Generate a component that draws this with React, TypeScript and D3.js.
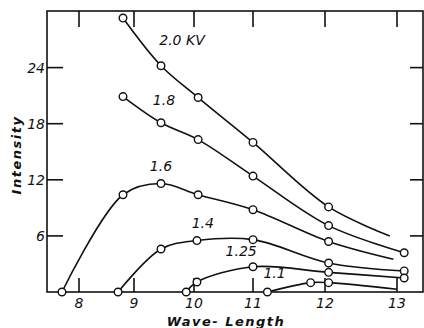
import { useEffect, useRef } from 'react';
import * as d3 from 'd3';

// wave-length ticks and their (hand-drawn, uneven) positions on the original sheet
const waveTicks = [8, 9, 10, 11, 12, 13];
const waveTickPos = [79, 134, 194, 253, 325, 397];
const intensityTicks = [6, 12, 18, 24];

const seriesLabels = ['2.0 KV', '1.8', '1.6', '1.4', '1.25', '1.1'];

const wave20 = [8.8, 9.45, 10.07, 11.0, 12.05, 12.9];
const int20 = [29.3, 24.2, 20.8, 16.0, 9.1, 6.0];

const wave18 = [8.8, 9.45, 10.07, 11.0, 12.05, 13.1];
const int18 = [20.9, 18.1, 16.3, 12.4, 7.1, 4.2];

const wave16 = [7.69, 8.8, 9.45, 10.07, 11.0, 12.05, 12.95];
const int16 = [0, 10.4, 11.6, 10.4, 8.8, 5.4, 3.5];

const wave14 = [8.71, 9.45, 10.05, 11.0, 12.05, 13.1];
const int14 = [0, 4.6, 5.5, 5.6, 3.1, 2.25];

const wave125 = [9.87, 10.05, 11.0, 12.05, 13.1];
const int125 = [0, 1.07, 2.7, 2.1, 1.5];

const wave11 = [11.2, 11.8, 12.05, 13.0];
const int11 = [0, 1.0, 1.0, 0.3];

// whether the last point of each curve carries a circle
const lastMarked = [false, true, false, true, true, false];

// label anchor (wave, intensity) for each curve
const labelWave = [9.8, 9.5, 9.45, 10.15, 10.8, 11.3];
const labelInt = [26.4, 20.0, 12.9, 6.8, 3.8, 1.5];

const FONT = "'DejaVu Sans', sans-serif";

export default function App() {
  const svgRef = useRef<SVGSVGElement>(null);

  useEffect(() => {
    if (!svgRef.current) return;
    const svg = d3.select(svgRef.current);
    svg.selectAll('*').remove();

    const width = 424;
    const height = 328;
    const left = 47;
    const right = 423;
    const top = 11;
    const bottom = 292;

    const x = d3.scaleLinear().domain(waveTicks).range(waveTickPos);
    const y = d3.scaleLinear().domain([0, 30]).range([bottom, bottom - 30 * 9.35]);

    svg.attr('viewBox', `0 0 ${width} ${height}`);

    // frame
    svg
      .append('rect')
      .attr('x', left)
      .attr('y', top)
      .attr('width', right - left)
      .attr('height', bottom - top)
      .attr('fill', 'none')
      .attr('stroke', '#111')
      .attr('stroke-width', 1.6);

    // inward ticks on all four sides
    const ticks = svg.append('g').attr('stroke', '#111').attr('stroke-width', 1.6);
    waveTicks.forEach((t) => {
      ticks.append('line').attr('x1', x(t)).attr('x2', x(t)).attr('y1', bottom).attr('y2', bottom - 14);
      ticks.append('line').attr('x1', x(t)).attr('x2', x(t)).attr('y1', top).attr('y2', top + 16);
    });
    intensityTicks.forEach((t) => {
      ticks.append('line').attr('x1', left).attr('x2', left + 16).attr('y1', y(t)).attr('y2', y(t));
      ticks.append('line').attr('x1', right - 13).attr('x2', right).attr('y1', y(t)).attr('y2', y(t));
    });

    // tick labels
    svg
      .append('g')
      .selectAll('text')
      .data(waveTicks)
      .join('text')
      .attr('x', (d) => x(d))
      .attr('y', 308)
      .attr('text-anchor', 'middle')
      .style('font-family', FONT)
      .style('font-style', 'italic')
      .style('font-size', '14px')
      .attr('fill', '#111')
      .text((d) => d);

    svg
      .append('g')
      .selectAll('text')
      .data(intensityTicks)
      .join('text')
      .attr('x', 45)
      .attr('y', (d) => y(d) + 5)
      .attr('text-anchor', 'end')
      .style('font-family', FONT)
      .style('font-style', 'italic')
      .style('font-size', '14px')
      .attr('fill', '#111')
      .text((d) => d);

    // axis titles
    svg
      .append('text')
      .attr('transform', 'translate(21,155) rotate(-90)')
      .attr('text-anchor', 'middle')
      .style('font-family', FONT)
      .style('font-style', 'italic')
      .style('font-weight', 'bold')
      .style('font-size', '13px')
      .style('letter-spacing', '1.5px')
      .attr('fill', '#111')
      .text('Intensity');

    svg
      .append('text')
      .attr('x', 226)
      .attr('y', 326)
      .attr('text-anchor', 'middle')
      .style('font-family', FONT)
      .style('font-style', 'italic')
      .style('font-weight', 'bold')
      .style('font-size', '13px')
      .style('letter-spacing', '1.5px')
      .attr('fill', '#111')
      .text('Wave- Length');

    const waves = [wave20, wave18, wave16, wave14, wave125, wave11];
    const ints = [int20, int18, int16, int14, int125, int11];

    const line = d3
      .line<[number, number]>()
      .x((d) => x(d[0]))
      .y((d) => y(d[1]))
      .curve(d3.curveCatmullRom.alpha(0.5));

    waves.forEach((w, i) => {
      const pts: [number, number][] = w.map((v, j) => [v, ints[i][j]]);
      svg
        .append('path')
        .datum(pts)
        .attr('fill', 'none')
        .attr('stroke', '#111')
        .attr('stroke-width', 1.6)
        .attr('d', line);

      const marked = lastMarked[i] ? pts : pts.slice(0, -1);
      svg
        .append('g')
        .selectAll('circle')
        .data(marked)
        .join('circle')
        .attr('cx', (d) => x(d[0]))
        .attr('cy', (d) => y(d[1]))
        .attr('r', 3.8)
        .attr('fill', '#fff')
        .attr('stroke', '#111')
        .attr('stroke-width', 1.4);

      svg
        .append('text')
        .attr('x', x(labelWave[i]))
        .attr('y', y(labelInt[i]))
        .attr('text-anchor', 'middle')
        .style('font-family', FONT)
        .style('font-style', 'italic')
        .style('font-size', '14px')
        .attr('fill', '#111')
        .text(seriesLabels[i]);
    });
  }, []);

  return (
    <svg
      ref={svgRef}
      width={424}
      height={328}
      style={{ position: 'absolute', left: 0, top: 0, background: '#fff' }}
    />
  );
}
